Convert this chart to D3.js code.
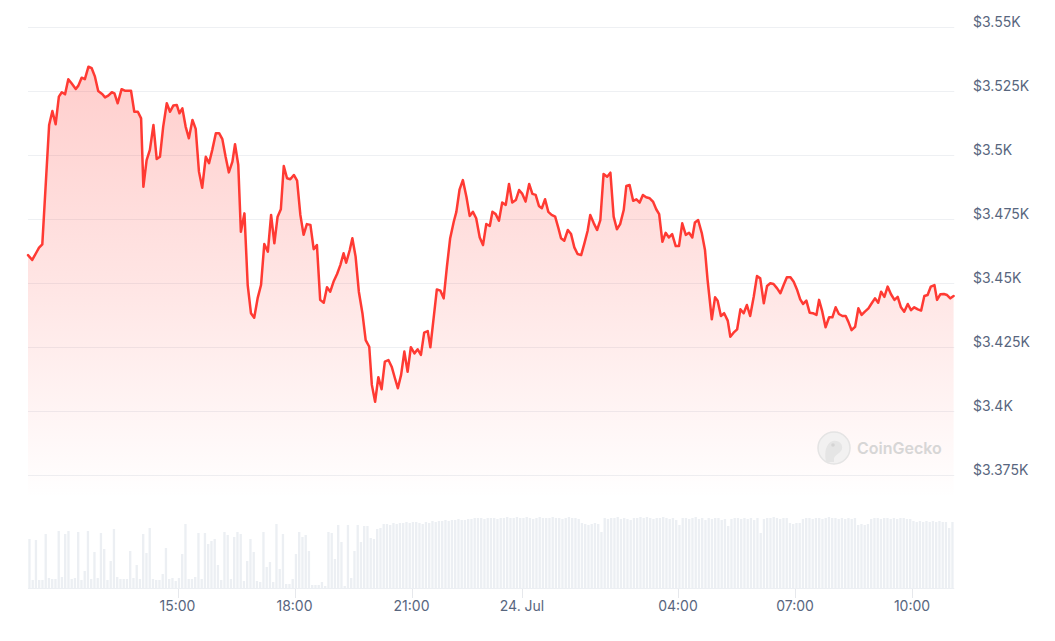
<!DOCTYPE html>
<html><head><meta charset="utf-8">
<script src="https://cdn.jsdelivr.net/npm/d3@7"></script>
<style>
body{margin:0;background:#fff;}
svg{display:block;font-family:Inter,"Noto Sans",sans-serif;}
</style>
</head><body>
<svg id="chart" width="1055" height="641"></svg>
<script>
// 5-minute step index (ordinal axis position) for each price sample
const steps = [0,1.3,2.7,3.4,4.4,6.5,7.5,8.5,9.5,10.4,11.4,12.4,13.4,14.7,15.5,16.5,17.5,18.6,19.6,20.6,21.6,22.9,23.7,24.7,25.8,26.6,27.6,28.8,29.8,31.7,32.7,33.8,34.8,35.5,36.5,37.5,38.6,39.6,40.6,41.6,42.7,43.7,44.7,45.8,46.6,47.5,48.5,49.5,50.6,51.6,52.6,53.6,54.7,55.7,56.7,57.8,58.8,59.8,60.8,61.8,62.9,63.7,64.7,65.5,66.6,67.6,68.6,69.6,70.7,71.7,
72.7,73.8,74.8,75.8,76.8,77.8,78.7,79.7,80.7,81.8,82.8,83.8,84.8,85.8,86.9,87.9,88.9,89.9,91.0,92.0,93.0,94.1,95.1,96.1,97.1,97.9,99.0,99.8,100.8,101.8,102.9,103.9,105.0,105.8,106.8,107.8,108.8,109.8,110.9,111.9,112.9,113.8,114.8,115.8,116.8,117.8,118.9,119.9,120.9,121.9,123.0,123.8,124.8,125.8,126.9,127.9,128.9,129.9,131.0,131.8,132.8,133.8,134.9,135.9,136.9,137.9,139.0,140.0,141.0,142.1,
142.9,143.9,144.9,145.9,147.0,148.0,149.0,150.1,151.1,152.1,153.1,154.2,155.2,156.2,157.2,158.1,159.1,160.1,161.1,162.2,163.2,164.0,165.0,166.1,167.1,168.1,169.1,170.2,171.2,172.2,173.0,174.1,175.1,176.1,177.1,178.2,179.2,180.2,181.2,182.2,183.3,184.1,185.1,186.2,187.2,188.2,189.2,190.2,191.3,192.3,193.3,194.2,195.2,196.2,197.2,198.2,199.3,200.3,201.3,202.4,203.4,204.4,205.2,206.2,207.3,208.3,209.1,210.4,211.4,
212.2,213.2,214.2,215.3,216.1,217.1,218.2,219.2,220.2,221.2,222.2,223.3,224.3,225.3,226.4,227.4,228.4,229.4,230.5,231.5,232.5,233.5,234.6,235.6,236.6,237.6,238.5,239.5,240.5,241.5,242.6,243.4,244.4,245.4,246.5,247.5,248.5,249.5,250.6,251.6,252.4,253.4,254.5,255.5,256.5,257.5,258.6,259.6,260.6,261.6,262.5,263.5,264.5,265.5,266.6,267.6,268.6,269.6,270.7,271.7,272.7,273.8,274.8,275.8,276.8,277.8,278.9,279.7,280.7,281.8,282.8,283.8,284.8];

// ETH price in USD
const prices = [3461.1,3459.2,3462.4,3464.0,3465.3,3511.9,3517.4,3512.2,3523.0,3524.7,3523.9,3529.8,3528.2,3526.0,3527.3,3530.4,3529.8,3534.7,3534.1,3530.8,3525.2,3523.9,3522.7,3523.4,3524.7,3524.3,3520.4,3525.9,3525.3,3525.3,3517.1,3517.1,3514.5,3487.8,3498.2,3502.2,3511.9,3498.6,3499.5,3511.3,3520.4,3517.1,3519.5,3519.7,3516.5,3518.4,3511.3,3506.7,3513.9,3510.4,3493.7,3487.4,3499.5,3497.0,3502.2,3508.7,3508.7,3506.4,3499.5,3493.4,3497.6,3504.4,3496.3,3470.2,3477.4,3449.4,3438.4,3436.6,3444.5,3449.4,
3465.4,3462.4,3476.8,3465.7,3476.1,3479.0,3495.9,3491.1,3490.7,3492.4,3490.2,3476.8,3469.0,3473.2,3472.9,3463.4,3465.0,3443.6,3442.5,3448.5,3446.8,3451.0,3453.7,3457.2,3461.8,3458.1,3463.1,3467.7,3460.5,3446.8,3438.4,3427.9,3425.3,3410.4,3403.8,3413.4,3408.7,3419.5,3420.1,3417.5,3413.0,3409.1,3414.3,3423.4,3415.5,3425.1,3422.7,3424.3,3422.1,3430.8,3431.4,3425.1,3436.4,3447.7,3447.2,3444.2,3456.6,3467.7,3474.1,3478.0,3486.8,3490.4,3483.9,3476.4,3478.0,3475.5,3468.0,3465.0,3473.2,3472.5,
3478.0,3477.1,3474.5,3481.6,3480.7,3488.9,3481.6,3482.6,3486.5,3485.0,3482.0,3488.9,3485.0,3484.6,3480.3,3479.4,3482.9,3478.0,3476.8,3476.1,3471.6,3467.7,3466.7,3470.9,3469.3,3464.1,3461.5,3461.1,3465.7,3470.6,3476.8,3473.5,3470.9,3474.8,3492.8,3491.7,3493.3,3476.1,3471.2,3473.2,3478.7,3488.1,3488.5,3482.3,3482.9,3481.6,3484.6,3483.7,3483.3,3482.0,3479.0,3477.1,3466.3,3469.8,3468.0,3469.3,3464.6,3464.6,3473.5,3469.0,3469.8,3468.0,3473.8,3474.8,3469.8,3463.1,3451.4,3436.0,3444.6,
3443.3,3437.3,3438.4,3435.5,3429.2,3430.8,3432.1,3439.9,3438.4,3441.6,3437.3,3444.8,3452.9,3452.0,3442.3,3449.0,3450.1,3449.8,3448.1,3446.2,3449.4,3452.4,3452.4,3450.7,3447.7,3443.8,3442.0,3443.3,3438.6,3438.4,3437.7,3443.6,3439.0,3432.9,3436.8,3436.8,3440.7,3438.1,3437.3,3437.3,3435.1,3431.8,3433.1,3440.3,3437.7,3439.0,3440.3,3442.3,3444.2,3442.5,3446.8,3444.8,3448.8,3445.9,3443.6,3444.8,3440.7,3439.0,3442.0,3439.6,3440.7,3439.9,3439.4,3445.1,3445.5,3448.8,3449.4,3443.6,3445.8,3445.9,3445.5,3444.2,3445.1];

// relative trading volume per 5-minute step (index 0..284)
const volumes = [49,8,48,8,8,54,10,9,9,57, 11,54,57,9,10,56,8,17,57,9, 36,10,55,39,8,27,59,11,9,9,
9,37,10,23,9,54,35,60,9,8, 8,14,40,9,10,7,10,34,64,9, 9,11,55,9,55,44,47,49,23,8,
56,53,9,51,56,54,7,27,49,36, 7,6,56,21,26,6,64,19,54,4, 4,9,34,56,51,53,37,3,3,3,
6,2,56,55,29,63,46,2,63,10, 37,63,46,62,62,50,49,59,60,64,
64,63,65,64,65,65,66,65,66,66, 65,64,66,65,67,66,67,67,68,67, 68,68,69,68,68,69,69,70,70,70,
69,70,70,70,69,70,70,71,70,70, 71,70,70,71,70,69,70,71,70,70, 70,71,70,70,69,70,71,70,70,69,
65,64,63,64,65,64,56,70,69,70, 70,71,69,70,69,68,70,70,71,70, 71,70,69,70,70,71,70,69,70,68,
63,70,70,69,70,71,69,70,68,70, 69,70,70,68,69,62,69,70,70,69, 70,69,70,68,70,55,69,70,70,71,
70,69,70,70,65,64,65,65,69,70, 70,69,70,70,69,70,71,70,70,69, 70,69,70,69,70,63,64,63,64,69,
70,70,69,70,70,69,70,69,70,70, 69,69,67,66,67,66,67,66,67,66, 67,66,66,60,66];

const timeTickSteps = [46,82,118,152,200,236,272];
const timeTickLabels = ["15:00","18:00","21:00","24. Jul","04:00","07:00","10:00"];
const priceTicks = [3550,3525,3500,3475,3450,3425,3400,3375];
const priceTickLabels = ["$3.55K","$3.525K","$3.5K","$3.475K","$3.45K","$3.425K","$3.4K","$3.375K"];

const svg = d3.select("#chart");
const x = d3.scaleLinear().domain([0,285]).range([28,954.25]);
const y = d3.scaleLinear().domain([3375,3550]).range([475.5,27.5]);
const yv = d3.scaleLinear().domain([0,72]).range([588,516]);
const data = steps.map((s,i)=>({s, p:prices[i]}));
const areaBase = 3366;

// gradient
const defs = svg.append("defs");
const grad = defs.append("linearGradient").attr("id","fillGrad")
  .attr("gradientUnits","userSpaceOnUse").attr("x1",0).attr("x2",0).attr("y1",y(3550)).attr("y2",y(areaBase));
grad.append("stop").attr("offset",0).attr("stop-color","#ff3a33").attr("stop-opacity",0.27);
grad.append("stop").attr("offset",0.55).attr("stop-color","#ff3a33").attr("stop-opacity",0.13);
grad.append("stop").attr("offset",1).attr("stop-color","#ff3a33").attr("stop-opacity",0);

// gridlines
svg.append("g").selectAll("line").data(priceTicks).join("line")
  .attr("x1",x(0)).attr("x2",x(285)).attr("y1",d=>y(d)).attr("y2",d=>y(d))
  .attr("stroke","#eef0f3").attr("stroke-width",1);

// area + line
svg.append("path").datum(data)
  .attr("d", d3.area().x(d=>x(d.s)).y0(y(areaBase)).y1(d=>y(d.p)))
  .attr("fill","url(#fillGrad)");
svg.append("path").datum(data)
  .attr("d", d3.line().x(d=>x(d.s)).y(d=>y(d.p)))
  .attr("fill","none").attr("stroke","#ff3a33").attr("stroke-width",2.5)
  .attr("stroke-linejoin","round").attr("stroke-linecap","round");

// y labels
svg.append("g").selectAll("text").data(priceTicks).join("text")
  .attr("x",973).attr("y",d=>y(d)-1)
  .attr("font-size",14).attr("fill","#58667e")
  .text((d,i)=>priceTickLabels[i]);

// volume bars
svg.append("g").selectAll("rect").data(volumes).join("rect")
  .attr("x",(d,i)=>x(i)+0.3).attr("width",2.3)
  .attr("y",d=>yv(d)).attr("height",d=>yv(0)-yv(d))
  .attr("fill","#eceff3");
svg.append("line").attr("x1",x(0)).attr("x2",x(285)).attr("y1",588.5).attr("y2",588.5)
  .attr("stroke","#eceff3");

// x axis ticks and labels
const xt = svg.append("g").selectAll("g").data(timeTickSteps).join("g");
xt.append("line").attr("x1",d=>Math.round(x(d))+0.5).attr("x2",d=>Math.round(x(d))+0.5)
  .attr("y1",589).attr("y2",598).attr("stroke","#e6e8ec");
xt.append("text").attr("x",d=>x(d)).attr("y",611).attr("text-anchor","middle")
  .attr("font-size",14).attr("fill","#58667e").text((d,i)=>timeTickLabels[i]);

// watermark
const wm = svg.append("g").attr("opacity",0.9);
wm.append("circle").attr("cx",834).attr("cy",448).attr("r",16).attr("fill","#f1f1f1").attr("stroke","#e2e2e2").attr("stroke-width",1.5);
wm.append("path").attr("d","M826,462 C824,452 826,443 833,441 C839,440 843,444 842,449 C841,453 836,454 834,458 L834,462 Z").attr("fill","#e3e3e3");
wm.append("circle").attr("cx",833).attr("cy",445).attr("r",1.8).attr("fill","#d0d0d0");
wm.append("text").attr("x",857).attr("y",454).attr("font-size",16).attr("font-weight",600)
  .attr("fill","#d3d3d3").text("CoinGecko");
</script>
</body></html>
